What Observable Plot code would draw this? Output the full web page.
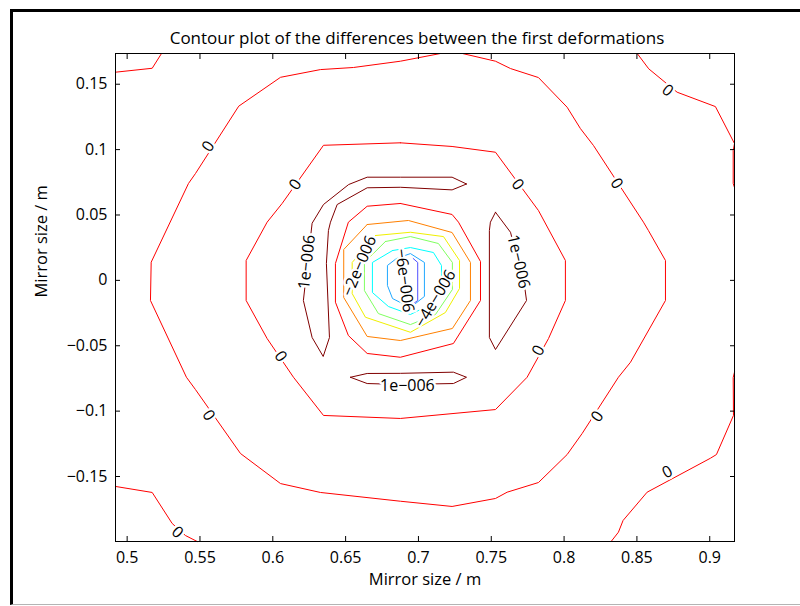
<!DOCTYPE html>
<html><head><meta charset="utf-8">
<script src="https://cdn.jsdelivr.net/npm/d3@7"></script>
<script src="https://cdn.jsdelivr.net/npm/@observablehq/plot@0.6"></script>
<style>
html,body{margin:0;padding:0;background:#fff;}
#wrap{position:relative;width:800px;height:606px;overflow:hidden;}
#frame{position:absolute;left:10px;top:9px;right:-10px;bottom:1px;border-left:3px solid #000;border-top:3px solid #000;border-bottom:1px solid #b4b4b4;}
#chart{position:absolute;left:0;top:0;}
</style></head><body>
<div id="wrap"><div id="frame"></div><div id="chart"></div></div>
<script>
// ---- texts ----
const titleText = "Contour plot of the differences between the first deformations";
const xLabelText = "Mirror size / m";
const yLabelText = "Mirror size / m";

// ---- ticks ----
const xTicks = [0.5, 0.55, 0.6, 0.65, 0.7, 0.75, 0.8, 0.85, 0.9];
const yTicks = [-0.15, -0.1, -0.05, 0, 0.05, 0.1, 0.15];

// ---- contour levels ----
const levels = [1e-6, 0, -1e-6, -2e-6, -3e-6, -4e-6, -5e-6, -6e-6];
const levelColors = ["#800000", "#ff0000", "#ff8000", "#f0f000", "#80ff60", "#00ffff", "#20a8ff", "#5050ff"];

// ---- contour paths (x, y in m) ----
const zeroCornerTopLeft = [[0.492,0.1592],[0.5172,0.1622],[0.5236,0.1735]];
const zeroOuterRing = [[0.7151,0.1735],[0.6876,0.1676],[0.6554,0.1628],[0.6327,0.1612],[0.6053,0.1553],[0.5766,0.1332],[0.5469,0.0817],[0.5421,0.0741],[0.5165,0.0139],[0.516,-0.0154],[0.5407,-0.0741],[0.5469,-0.0835],[0.5778,-0.1324],[0.6053,-0.1554],[0.6327,-0.1622],[0.6876,-0.1689],[0.7231,-0.1729],[0.7529,-0.1668],[0.7609,-0.162],[0.7824,-0.1546],[0.8021,-0.1332],[0.8124,-0.1171],[0.8373,-0.0741],[0.8456,-0.0626],[0.8696,-0.0154],[0.8696,0.0152],[0.8579,0.0381],[0.8545,0.0445],[0.8202,0.1031],[0.8112,0.1161],[0.8021,0.1324],[0.7824,0.1551],[0.7632,0.162],[0.7529,0.1676],[0.7302,0.1735]];
const zeroInnerRing = [[0.6876,0.1052],[0.6348,0.1033],[0.6064,0.0588],[0.5961,0.0445],[0.5817,0.0152],[0.5817,-0.0154],[0.5961,-0.0445],[0.6142,-0.0741],[0.6348,-0.1033],[0.6876,-0.1056],[0.7529,-0.0988],[0.7746,-0.0741],[0.7893,-0.0445],[0.8009,-0.0154],[0.8009,0.0152],[0.7824,0.0534],[0.7529,0.098],[0.7231,0.1024],[0.6876,0.1052]];
const zeroCentralRing = [[0.6876,0.0588],[0.7231,0.0504],[0.7275,0.0445],[0.7426,0.0144],[0.7426,-0.0154],[0.724,-0.0483],[0.6876,-0.0588],[0.6648,-0.0559],[0.6519,-0.0422],[0.643,-0.0167],[0.643,0.0129],[0.6519,0.0445],[0.6648,0.0567],[0.6876,0.0588]];
const zeroTopRight = [[0.8502,0.1735],[0.8581,0.1618],[0.8776,0.1439],[0.9039,0.1329],[0.917,0.1046],[0.9161,0.0993],[0.9161,0.0741],[0.917,0.071]];
const zeroBottomRight = [[0.917,-0.0702],[0.9161,-0.0743],[0.9163,-0.1033],[0.9046,-0.1332],[0.9005,-0.136],[0.857,-0.162],[0.8405,-0.1836],[0.8373,-0.1926],[0.8323,-0.1997]];
const zeroBottomLeft = [[0.492,-0.1576],[0.5172,-0.1622],[0.5309,-0.1859],[0.54,-0.1951],[0.5481,-0.1997]];
const posLeftHook = [[0.733,0.0737],[0.7231,0.0789],[0.6876,0.0789],[0.6648,0.0789],[0.6521,0.0733],[0.6348,0.058],[0.627,0.0437],[0.621,-0.0154],[0.627,-0.0437],[0.6346,-0.0582],[0.6389,-0.0437],[0.6368,0.0129],[0.6382,0.0381],[0.6396,0.0445],[0.6442,0.058],[0.6648,0.0708],[0.6876,0.0712],[0.7231,0.0692],[0.733,0.0737]];
const posRight = [[0.7529,0.0521],[0.7632,0.0368],[0.7728,-0.0039],[0.7742,-0.0154],[0.7529,-0.0529],[0.7487,-0.0437],[0.7487,0.0381],[0.7494,0.0445],[0.7529,0.0521]];
const posBottom = [[0.6533,-0.0741],[0.6648,-0.0712],[0.6876,-0.0711],[0.724,-0.0702],[0.733,-0.0741],[0.724,-0.0789],[0.6876,-0.0796],[0.6648,-0.0789],[0.6533,-0.0741]];
const neg1Ring = [[0.6648,0.0427],[0.6931,0.0458],[0.7231,0.0366],[0.7357,0.0137],[0.7357,-0.0154],[0.7233,-0.0368],[0.6876,-0.046],[0.6648,-0.0429],[0.6487,-0.0131],[0.6487,0.0236],[0.6648,0.0427]];
const neg2Ring = [[0.6705,0.0343],[0.6945,0.0368],[0.7172,0.0335],[0.7282,0.0152],[0.7282,-0.0062],[0.7185,-0.0246],[0.6945,-0.0397],[0.6636,-0.0282],[0.6545,-0.0101],[0.6545,0.0137],[0.6705,0.0343]];
const neg3Ring = [[0.6773,0.0297],[0.6945,0.0335],[0.7137,0.0282],[0.7233,0.0137],[0.7233,-0.007],[0.7117,-0.0261],[0.6945,-0.0338],[0.6725,-0.0254],[0.6629,-0.0078],[0.6629,0.0137],[0.6773,0.0297]];
const neg4Ring = [[0.6822,0.0228],[0.6945,0.0251],[0.7103,0.0213],[0.7158,0.0114],[0.7158,-0.0078],[0.7069,-0.0192],[0.6945,-0.0261],[0.6794,-0.02],[0.6684,-0.0093],[0.6684,0.0137],[0.6822,0.0228]];
const neg5Ring = [[0.6849,0.0167],[0.6945,0.0205],[0.7041,0.0137],[0.7041,-0.0123],[0.6945,-0.0208],[0.6822,-0.0139],[0.6787,-0.0039],[0.6787,0.0114],[0.6849,0.0167]];
const neg6Line = [[0.6964,0.0167],[0.6995,0.0137],[0.6995,-0.0154],[0.6966,-0.0177]];

const contours = [
  {level: 0, pts: zeroCornerTopLeft},
  {level: 0, pts: zeroOuterRing},
  {level: 0, pts: zeroInnerRing},
  {level: 0, pts: zeroCentralRing},
  {level: 0, pts: zeroTopRight},
  {level: 0, pts: zeroBottomRight},
  {level: 0, pts: zeroBottomLeft},
  {level: 1e-6, pts: posLeftHook},
  {level: 1e-6, pts: posRight},
  {level: 1e-6, pts: posBottom},
  {level: -1e-6, pts: neg1Ring},
  {level: -2e-6, pts: neg2Ring},
  {level: -3e-6, pts: neg3Ring},
  {level: -4e-6, pts: neg4Ring},
  {level: -5e-6, pts: neg5Ring},
  {level: -6e-6, pts: neg6Line}
];

// ---- contour labels ----
const labelTexts = ["0","0","0","0","0","0","0","0","0","0","0","1e\u2212006","1e\u2212006","1e\u2212006","\u22122e\u2212006","\u22126e\u2212006","\u22124e\u2212006"];
const labelX = [0.5558,0.6156,0.5558,0.6053,0.7824,0.8229,0.768,0.836,0.871,0.871,0.5345,0.6234,0.7687,0.6924,0.6595,0.6904,0.7117];
const labelY = [0.1024,0.0733,-0.1033,-0.0582,-0.0536,-0.1041,0.0733,0.0741,0.1452,-0.1467,-0.1928,0.014,0.0144,-0.0804,0.011,-0.0001,-0.0139];
const labelAngle = [-58,-55,58,56,-61,-55,53,57,40,-28,43,-84,77,0,-67,83,-59];

// ---- build tables ----
const rows = contours.flatMap((c, i) => c.pts.map(([x, y]) => ({id: i, level: c.level, x, y})));
const labels = labelTexts.map((t, i) => ({t, x: labelX[i], y: labelY[i], a: labelAngle[i]}));
const fmt = d3.format("~g");
const FONT = "'Open Sans', 'Noto Sans', sans-serif";

const chart = Plot.plot({
  width: 800, height: 606,
  marginLeft: 115, marginRight: 66, marginTop: 53, marginBottom: 65,
  x: {domain: [0.492, 0.917], label: null},
  y: {domain: [-0.1997, 0.1735], label: null},
  color: {type: "ordinal", domain: levels, range: levelColors},
  style: {fontFamily: FONT, fontSize: "16px", background: "transparent", color: "#000"},
  marks: [
    Plot.line(rows, {x: "x", y: "y", z: "id", stroke: "level", strokeWidth: 1}),
    Plot.text(labels, {x: "x", y: "y", text: "t", rotate: "a", fill: "#000", stroke: "#fff", strokeWidth: 5, paintOrder: "stroke", fontSize: 16}),
    Plot.frame({stroke: "#000", strokeWidth: 1}),
    Plot.axisX(xTicks, {anchor: "bottom", tickSize: -5, tickFormat: () => "", stroke: "#000"}),
    Plot.axisX(xTicks, {anchor: "top", tickSize: -5, tickFormat: () => "", stroke: "#000"}),
    Plot.axisY(yTicks, {anchor: "left", tickSize: -5, tickFormat: () => "", stroke: "#000"}),
    Plot.axisY(yTicks, {anchor: "right", tickSize: -5, tickFormat: () => "", stroke: "#000"}),
    Plot.axisX(xTicks, {anchor: "bottom", tickSize: 0, tickPadding: 10, tickFormat: fmt, fill: "#000", fontSize: 16}),
    Plot.axisY(yTicks, {anchor: "left", tickSize: 0, tickPadding: 8, tickFormat: fmt, fill: "#000", fontSize: 16}),
    Plot.text([xLabelText], {frameAnchor: "bottom", dy: 43, fill: "#000", fontSize: 16.5}),
    Plot.text([yLabelText], {frameAnchor: "left", dx: -74, rotate: -90, fill: "#000", fontSize: 16.5}),
    Plot.text([titleText], {frameAnchor: "top", dx: -8, dy: -22, fill: "#000", fontSize: 17})
  ]
});
document.getElementById("chart").appendChild(chart);
</script>
</body></html>
